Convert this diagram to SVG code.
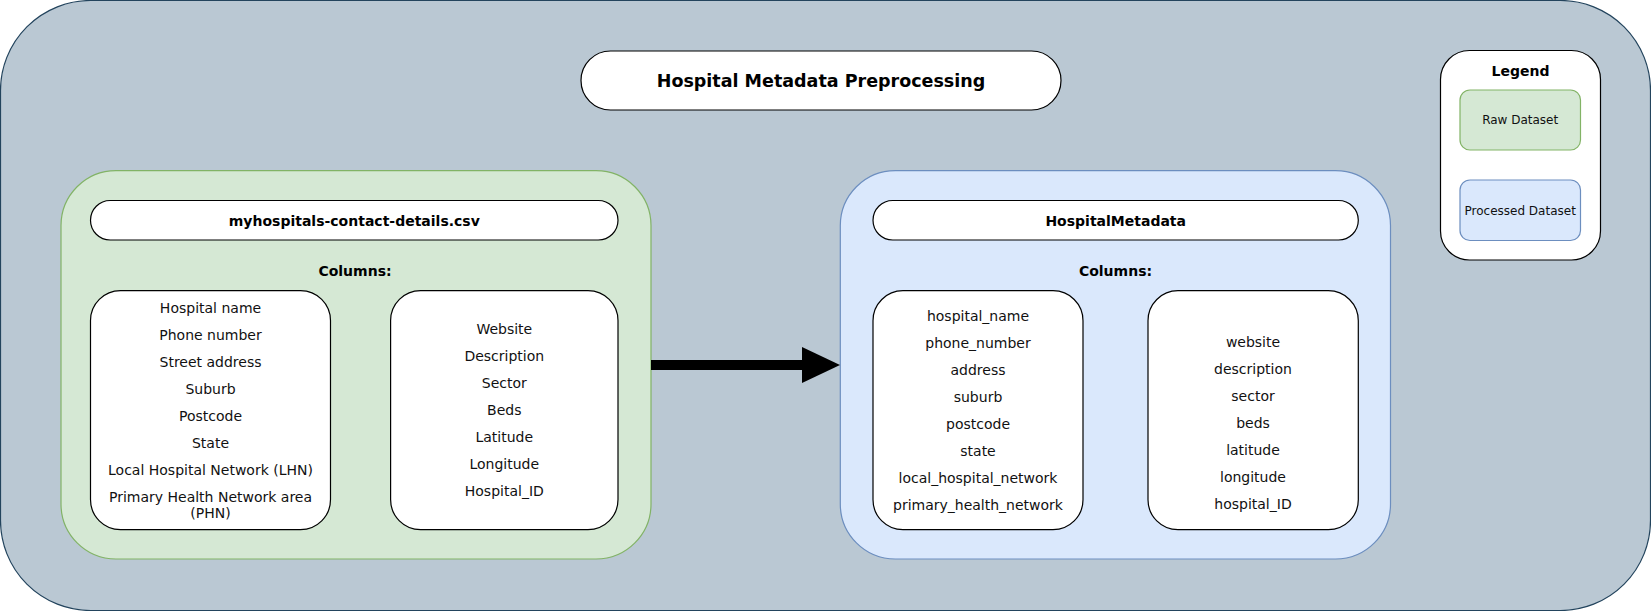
<svg xmlns="http://www.w3.org/2000/svg" width="1651" height="611" viewBox="0 0 1651 611">
<style>
text{font-family:"DejaVu Sans","Verdana",sans-serif;fill:#111;text-anchor:middle;dominant-baseline:central}
.b{font-weight:bold;fill:#000}
.t14{font-size:14px}
.t12{font-size:12px}
.white{fill:#fff;stroke:#000;stroke-width:1.2}
.green{fill:#d5e8d4;stroke:#82b366;stroke-width:1.2}
.blue{fill:#dae8fc;stroke:#6c8ebf;stroke-width:1.2}
</style>
<defs>
<marker id="ah" markerUnits="userSpaceOnUse" markerWidth="38" markerHeight="36" refX="10" refY="18" orient="auto">
<path d="M0,0 L38,18 L0,36 Z" fill="#000"/>
</marker>
</defs>
<g id="background">
<rect x="0.5" y="0.5" width="1650" height="610" rx="90" ry="90" fill="#bac8d3" stroke="#23445d" stroke-width="1.2"/>
</g>
<g id="title">
<rect class="white" x="581" y="51" width="480" height="59" rx="29.5" ry="29.5"/>
<text class="b" x="821" y="80.5" font-size="17.5">Hospital Metadata Preprocessing</text>
</g>
<g id="legend">
<rect class="white" x="1440.5" y="50.5" width="160" height="209.5" rx="29" ry="29"/>
<text class="b t14" x="1520.5" y="71">Legend</text>
<rect class="green" x="1460" y="90" width="120.5" height="60" rx="10" ry="10"/>
<text class="t12" x="1520.2" y="120">Raw Dataset</text>
<rect class="blue" x="1460" y="180" width="120.5" height="60.5" rx="10" ry="10"/>
<text class="t12" x="1520.2" y="210.5">Processed Dataset</text>
</g>
<g id="raw-dataset">
<rect class="green" x="61" y="170.6" width="590" height="388.4" rx="55" ry="55"/>
<rect class="white" x="90.5" y="200.5" width="527.5" height="39.5" rx="19.75" ry="19.75"/>
<text class="b t14" x="354.3" y="220.5">myhospitals-contact-details.csv</text>
<text class="b t14" x="355" y="270.6">Columns:</text>
</g>
<g id="raw-columns-left">
<rect class="white" x="90.5" y="290.6" width="240" height="239" rx="30" ry="30"/>
<text class="t14" x="210.5" y="308.3">Hospital name</text>
<text class="t14" x="210.5" y="335.3">Phone number</text>
<text class="t14" x="210.5" y="362.3">Street address</text>
<text class="t14" x="210.5" y="389.3">Suburb</text>
<text class="t14" x="210.5" y="416.3">Postcode</text>
<text class="t14" x="210.5" y="443.3">State</text>
<text class="t14" x="210.5" y="470.3">Local Hospital Network (LHN)</text>
<text class="t14" x="210.5" y="497">Primary Health Network area</text>
<text class="t14" x="210.5" y="512.5">(PHN)</text>
</g>
<g id="raw-columns-right">
<rect class="white" x="390.6" y="290.6" width="227.4" height="239" rx="30" ry="30"/>
<text class="t14" x="504.3" y="329">Website</text>
<text class="t14" x="504.3" y="356">Description</text>
<text class="t14" x="504.3" y="383">Sector</text>
<text class="t14" x="504.3" y="410">Beds</text>
<text class="t14" x="504.3" y="437">Latitude</text>
<text class="t14" x="504.3" y="464">Longitude</text>
<text class="t14" x="504.3" y="491">Hospital_ID</text>
</g>
<g id="processed-dataset">
<rect class="blue" x="840.3" y="170.6" width="550.2" height="388.4" rx="55" ry="55"/>
<rect class="white" x="873" y="200.5" width="485.3" height="39.5" rx="19.75" ry="19.75"/>
<text class="b t14" x="1115.7" y="220.5">HospitalMetadata</text>
<text class="b t14" x="1115.5" y="270.6">Columns:</text>
</g>
<g id="processed-columns-left">
<rect class="white" x="873" y="290.7" width="210" height="239" rx="30" ry="30"/>
<text class="t14" x="978" y="315.7">hospital_name</text>
<text class="t14" x="978" y="342.7">phone_number</text>
<text class="t14" x="978" y="369.7">address</text>
<text class="t14" x="978" y="396.7">suburb</text>
<text class="t14" x="978" y="423.7">postcode</text>
<text class="t14" x="978" y="450.7">state</text>
<text class="t14" x="978" y="477.7">local_hospital_network</text>
<text class="t14" x="978" y="504.7">primary_health_network</text>
</g>
<g id="processed-columns-right">
<rect class="white" x="1148" y="290.7" width="210.3" height="239" rx="30" ry="30"/>
<text class="t14" x="1253" y="341.7">website</text>
<text class="t14" x="1253" y="368.7">description</text>
<text class="t14" x="1253" y="395.7">sector</text>
<text class="t14" x="1253" y="422.7">beds</text>
<text class="t14" x="1253" y="449.7">latitude</text>
<text class="t14" x="1253" y="476.7">longitude</text>
<text class="t14" x="1253" y="503.7">hospital_ID</text>
</g>
<g id="connectors">
<line x1="651" y1="365" x2="812" y2="365" stroke="#000" stroke-width="10" marker-end="url(#ah)"/>
</g>
</svg>
